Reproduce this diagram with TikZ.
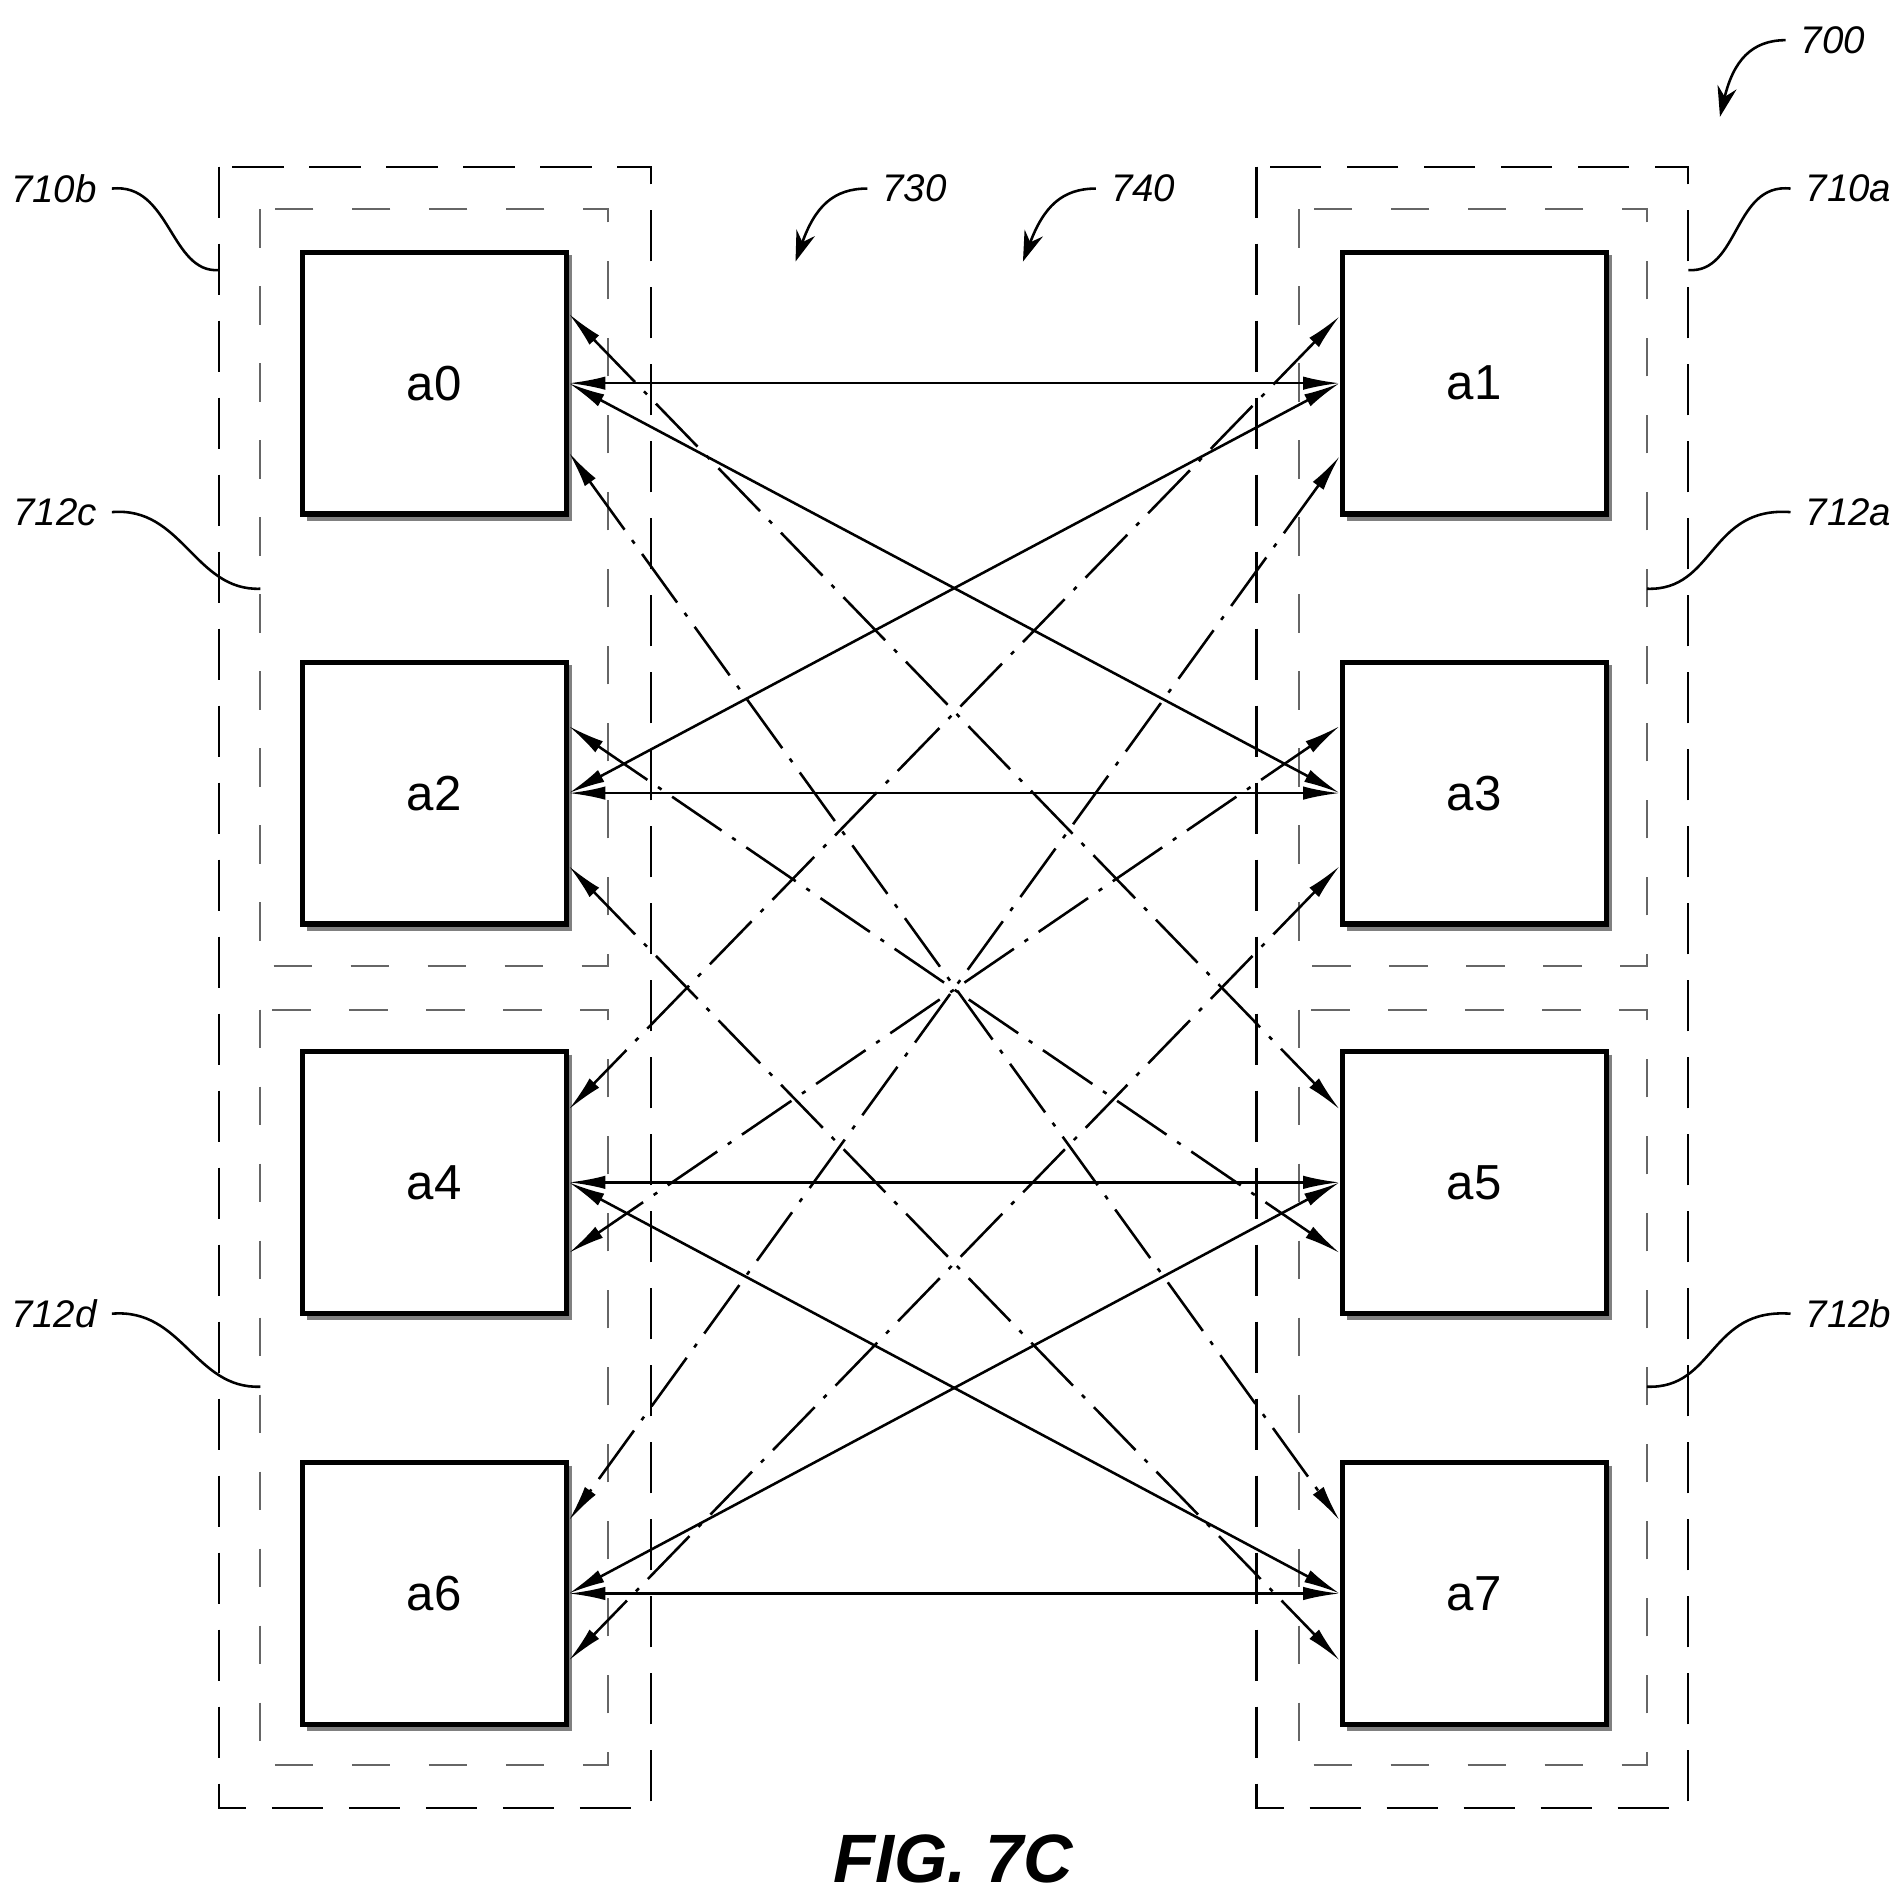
\documentclass[tikz,border=0pt]{standalone}
\usepackage{fontspec}
\setmainfont{Liberation Sans}
\usetikzlibrary{arrows.meta,calc}
\begin{document}
\begin{tikzpicture}[x=0.01cm,y=-0.01cm,
 blk/.style={draw,line width=1.2pt,minimum width=2.17cm,minimum height=2.15cm,inner sep=0pt,font=\fontsize{11.5}{11.5}\selectfont},
 outer/.style={dash pattern=on 12pt off 6pt,line width=0.5pt},
 inner/.style={dash pattern=on 9pt off 9pt,line width=0.5pt,gray!80!black},
 tip/.style={{Latex[length=3mm,width=1.1mm]}-{Latex[length=3mm,width=1.1mm]}},
 con/.style={tip,line width=0.6pt},
 dd/.style={tip,line width=0.6pt,dash pattern=on 14pt off 3pt on 1pt off 3pt},
 ref/.style={font=\itshape\fontsize{9}{9}\selectfont},
 lead/.style={line width=0.6pt},
 lab/.style={-{Stealth[length=2.5mm,width=1.6mm]},line width=0.6pt}]
\useasboundingbox (0,0) rectangle (1560,1562);
% containers
\draw[outer] (180,137) rectangle (535,1486);
\draw[outer] (1033,137) rectangle (1388,1486);
\draw[inner] (214,172) rectangle (500,794);
\draw[inner] (214,830) rectangle (500,1451);
\draw[inner] (1068,172) rectangle (1354,794);
\draw[inner] (1068,830) rectangle (1354,1451);
% blocks
\foreach \n/\x/\y in {a0/357/315,a2/357/652,a4/357/972,a6/357/1310,a1/1212/315,a3/1212/652,a5/1212/972,a7/1212/1310}{
 \draw[gray,line width=1.2pt] (\x+111,\y-105) -- (\x+111,\y+111) -- (\x-105,\y+111);
 \node[blk] (\n) at (\x,\y) {\n};
}
% solid
\draw[con] (a0.east) -- (a1.west);
\draw[con] (a2.east) -- (a3.west);
\draw[con] (a4.east) -- (a5.west);
\draw[con] (a6.east) -- (a7.west);
\draw[con] (a0.east) -- (a3.west);
\draw[con] (a2.east) -- (a1.west);
\draw[con] (a4.east) -- (a7.west);
\draw[con] (a6.east) -- (a5.west);
% dash-dot
\draw[dd] ([yshift=0.57cm]a0.east) -- ([yshift=0.6cm]a5.west);
\draw[dd] ([yshift=-0.57cm]a0.east) -- ([yshift=0.6cm]a7.west);
\draw[dd] ([yshift=0.55cm]a2.east) -- ([yshift=-0.58cm]a5.west);
\draw[dd] ([yshift=-0.6cm]a2.east) -- ([yshift=-0.55cm]a7.west);
\draw[dd] ([yshift=0.55cm]a1.west) -- ([yshift=0.6cm]a4.east);
\draw[dd] ([yshift=-0.6cm]a1.west) -- ([yshift=0.6cm]a6.east);
\draw[dd] ([yshift=0.55cm]a3.west) -- ([yshift=-0.58cm]a4.east);
\draw[dd] ([yshift=-0.6cm]a3.west) -- ([yshift=-0.55cm]a6.east);
% reference labels
\node[ref,anchor=east] (l710b) at (92,155) {710b};
\draw[lead] (l710b.east) .. controls (140,150) and (140,225) .. (180,222);
\node[ref,anchor=east] (l712c) at (92,421) {712c};
\draw[lead] (l712c.east) .. controls (150,416) and (160,486) .. (214,484);
\node[ref,anchor=east] (l712d) at (92,1080) {712d};
\draw[lead] (l712d.east) .. controls (150,1075) and (160,1142) .. (214,1140);
\node[ref,anchor=west] (l710a) at (1472,155) {710a};
\draw[lead] (l710a.west) .. controls (1425,150) and (1430,225) .. (1388,222);
\node[ref,anchor=west] (l712a) at (1472,421) {712a};
\draw[lead] (l712a.west) .. controls (1405,416) and (1410,486) .. (1354,484);
\node[ref,anchor=west] (l712b) at (1472,1080) {712b};
\draw[lead] (l712b.west) .. controls (1405,1075) and (1410,1142) .. (1354,1140);
\node[ref,anchor=west] (l700) at (1468,33) {700};
\coordinate (e700) at (1414,96);
\draw[lab] (l700.west) .. controls (1440,33) and (1425,50) .. (e700);
\node[ref,anchor=west] (l730) at (713,155) {730};
\coordinate (e730) at (654,215);
\draw[lab] (l730.west) .. controls (685,155) and (670,170) .. (e730);
\node[ref,anchor=west] (l740) at (901,155) {740};
\coordinate (e740) at (841,215);
\draw[lab] (l740.west) .. controls (873,155) and (858,170) .. (e740);
\node[font=\bfseries\itshape\fontsize{16}{16}\selectfont] (fig) at (784,1528) {FIG. 7C};
\end{tikzpicture}
\end{document}
